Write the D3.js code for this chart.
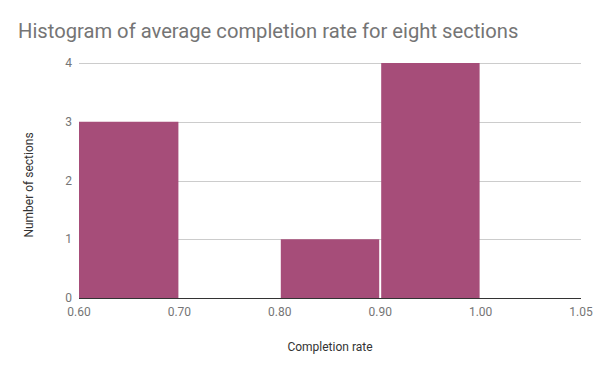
<!DOCTYPE html>
<html><head><meta charset="utf-8">
<script src="https://cdn.jsdelivr.net/npm/d3@7"></script>
<style>body{margin:0;background:#fff;}svg{display:block;font-family:Roboto,sans-serif;}</style>
</head><body><svg id="c" width="600" height="371"></svg>
<script>
const binEdges = ["0.60","0.70","0.80","0.90","1.00","1.05"];
const binCounts = [3, 0, 1, 4, 0];
const yTicks = [0, 1, 2, 3, 4];

const svg = d3.select("#c");
const m = {left: 79, right: 581, top: 63, bottom: 298};
const x = d3.scalePoint().domain(binEdges).range([m.left, m.right]);
const y = d3.scaleLinear().domain([0, 4]).range([m.bottom, m.top]);

svg.append("rect").attr("width",600).attr("height",371).attr("fill","#fff");

svg.append("text").attr("x",18).attr("y",38).attr("font-size",20.2).attr("fill","#757575")
  .text("Histogram of average completion rate for eight sections");

// gridlines
svg.append("g").selectAll("line").data(yTicks.filter(d=>d>0)).join("line")
  .attr("x1",m.left).attr("x2",m.right).attr("y1",d=>Math.round(y(d))+0.5).attr("y2",d=>Math.round(y(d))+0.5)
  .attr("stroke","#cccccc").attr("stroke-width",1);

// bars
const bins = binCounts.map((c,i)=>({x0:binEdges[i], x1:binEdges[i+1], c}));
svg.append("g").selectAll("rect").data(bins.filter(b=>b.c>0)).join("rect")
  .attr("x",b=>x(b.x0)+ (b.x0===binEdges[0]?0:1))
  .attr("width",b=>x(b.x1)-x(b.x0)-(b.x0===binEdges[0]?1:2))
  .attr("y",b=>y(b.c)).attr("height",b=>y(0)-y(b.c))
  .attr("fill","#a64d79");

// baseline
svg.append("line").attr("x1",m.left).attr("x2",m.right).attr("y1",m.bottom+0.5).attr("y2",m.bottom+0.5)
  .attr("stroke","#333").attr("stroke-width",1);

// y tick labels
svg.append("g").selectAll("text").data(yTicks).join("text")
  .attr("x",72).attr("y",d=>y(d)+4).attr("text-anchor","end")
  .attr("font-size",12).attr("fill","#757575").text(d=>d);

// x tick labels
svg.append("g").selectAll("text").data(binEdges).join("text")
  .attr("x",d=>x(d)).attr("y",316).attr("text-anchor","middle")
  .attr("font-size",12).attr("fill","#757575").text(d=>d);

svg.append("text").attr("x",330).attr("y",351).attr("text-anchor","middle")
  .attr("font-size",12).attr("fill","#333").text("Completion rate");
svg.append("text").attr("transform","translate(33,185) rotate(-90)").attr("text-anchor","middle")
  .attr("font-size",12).attr("fill","#333").text("Number of sections");
</script></body></html>
